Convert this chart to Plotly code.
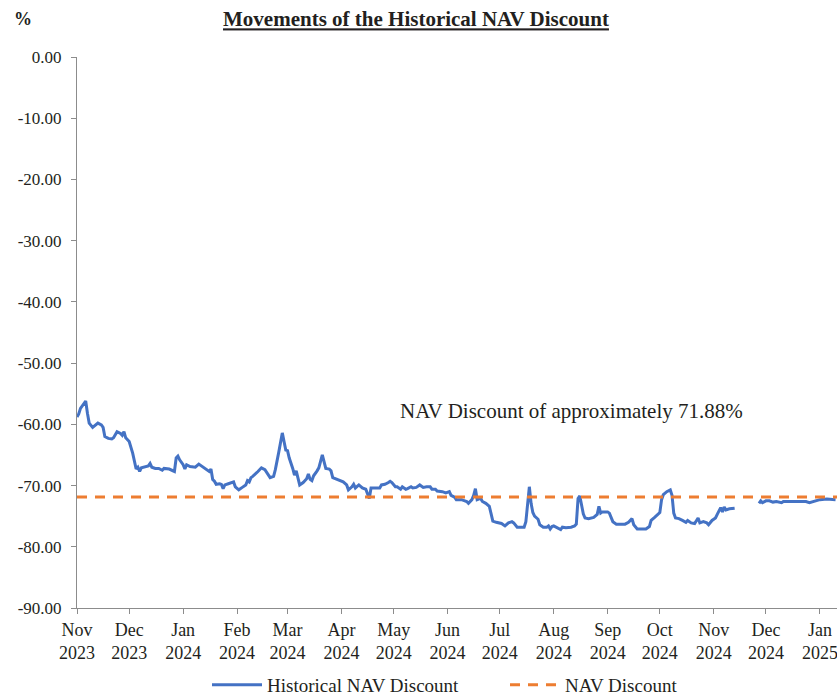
import plotly.graph_objects as go

# ---- data ----
dates = [
    "2023-11-01","2023-11-02","2023-11-03","2023-11-06","2023-11-07","2023-11-08","2023-11-10","2023-11-11",
    "2023-11-13","2023-11-15","2023-11-16","2023-11-17","2023-11-19","2023-11-21","2023-11-22","2023-11-24",
    "2023-11-26","2023-11-27","2023-11-28","2023-11-29","2023-12-01","2023-12-03","2023-12-04","2023-12-05",
    "2023-12-06","2023-12-07","2023-12-08","2023-12-10","2023-12-12","2023-12-13","2023-12-14","2023-12-16",
    "2023-12-18","2023-12-20","2023-12-21","2023-12-24","2023-12-27","2023-12-28","2023-12-29","2023-12-30",
    "2024-01-01","2024-01-02","2024-01-03","2024-01-05","2024-01-08","2024-01-10","2024-01-12","2024-01-14",
    "2024-01-16","2024-01-17","2024-01-18","2024-01-19","2024-01-20","2024-01-22","2024-01-23","2024-01-24",
    "2024-01-25","2024-01-27","2024-01-30","2024-01-31","2024-02-02","2024-02-04","2024-02-06","2024-02-07",
    "2024-02-08","2024-02-09","2024-02-10","2024-02-13","2024-02-15","2024-02-17","2024-02-19","2024-02-20",
    "2024-02-22","2024-02-23","2024-02-25","2024-02-27","2024-02-28","2024-02-29","2024-03-01","2024-03-02",
    "2024-03-04","2024-03-05","2024-03-06","2024-03-07","2024-03-08","2024-03-10","2024-03-11","2024-03-12",
    "2024-03-13","2024-03-14","2024-03-15","2024-03-16","2024-03-18","2024-03-19","2024-03-21","2024-03-22",
    "2024-03-23","2024-03-25","2024-03-26","2024-03-27","2024-03-30","2024-04-02","2024-04-04","2024-04-05",
    "2024-04-07","2024-04-08","2024-04-09","2024-04-11","2024-04-13","2024-04-15","2024-04-17","2024-04-18",
    "2024-04-20","2024-04-23","2024-04-24","2024-04-26","2024-04-28","2024-04-29","2024-04-30","2024-05-02",
    "2024-05-03","2024-05-05","2024-05-06","2024-05-08","2024-05-09","2024-05-11","2024-05-12","2024-05-14",
    "2024-05-16","2024-05-18","2024-05-20","2024-05-22","2024-05-23","2024-05-25","2024-05-26","2024-05-29",
    "2024-05-31","2024-06-02","2024-06-03","2024-06-05","2024-06-06","2024-06-09","2024-06-12","2024-06-13",
    "2024-06-15","2024-06-16","2024-06-17","2024-06-18","2024-06-20","2024-06-21","2024-06-23","2024-06-25",
    "2024-06-26","2024-06-27","2024-06-29","2024-07-01","2024-07-02","2024-07-04","2024-07-06","2024-07-08",
    "2024-07-09","2024-07-11","2024-07-13","2024-07-15","2024-07-16","2024-07-17","2024-07-18","2024-07-19",
    "2024-07-20","2024-07-21","2024-07-23","2024-07-24","2024-07-26","2024-07-28","2024-07-29","2024-07-30",
    "2024-07-31","2024-08-01","2024-08-03","2024-08-05","2024-08-06","2024-08-08","2024-08-11","2024-08-13",
    "2024-08-14","2024-08-15","2024-08-16","2024-08-17","2024-08-18","2024-08-19","2024-08-21","2024-08-24",
    "2024-08-26","2024-08-27","2024-08-28","2024-08-29","2024-09-01","2024-09-02","2024-09-04","2024-09-06",
    "2024-09-09","2024-09-11","2024-09-13","2024-09-15","2024-09-16","2024-09-18","2024-09-21","2024-09-23",
    "2024-09-25","2024-09-26","2024-09-28","2024-10-01","2024-10-02","2024-10-03","2024-10-05","2024-10-07",
    "2024-10-08","2024-10-09","2024-10-10","2024-10-12","2024-10-14","2024-10-16","2024-10-17","2024-10-19",
    "2024-10-21","2024-10-23","2024-10-24","2024-10-26","2024-10-28","2024-10-29","2024-10-31","2024-11-02",
    "2024-11-03","2024-11-04","2024-11-05","2024-11-06","2024-11-07","2024-11-08","2024-11-10","2024-11-13",
    "2024-11-20",
    "2024-11-27","2024-11-28","2024-11-29","2024-12-01","2024-12-03","2024-12-05","2024-12-07","2024-12-10",
    "2024-12-11","2024-12-16","2024-12-24","2024-12-26","2024-12-29","2025-01-01","2025-01-05","2025-01-08",
    "2025-01-10",
]
historical_discount = [
    -58.8,-58.3,-57.4,-56.2,-58.2,-59.8,-60.5,-60.3,
    -59.8,-60.1,-60.5,-62.0,-62.3,-62.4,-62.2,-61.2,
    -61.5,-61.8,-61.2,-62.2,-62.8,-64.7,-66.1,-67.3,
    -67.0,-67.7,-67.1,-67.0,-66.8,-66.4,-67.0,-67.2,
    -67.2,-67.5,-67.2,-67.3,-67.7,-65.5,-65.2,-65.8,
    -66.6,-67.3,-66.6,-66.9,-67.0,-66.5,-66.9,-67.3,
    -67.7,-67.3,-69.0,-69.3,-69.8,-69.7,-69.8,-70.5,
    -69.9,-69.7,-69.4,-70.2,-70.7,-70.3,-69.9,-69.2,
    -69.4,-68.7,-68.5,-67.7,-67.1,-67.4,-68.3,-68.7,
    -68.5,-67.4,-64.5,-61.4,-62.8,-64.2,-64.3,-65.5,
    -67.2,-68.3,-67.6,-68.7,-69.9,-69.5,-69.2,-68.9,
    -68.1,-69.0,-69.2,-68.4,-67.6,-67.1,-65.0,-66.4,
    -67.2,-67.3,-67.6,-68.7,-69.1,-69.4,-69.9,-70.7,
    -70.2,-69.8,-70.4,-69.9,-70.4,-70.6,-72.1,-70.4,
    -70.4,-70.4,-69.9,-69.8,-69.5,-69.3,-69.5,-70.2,
    -70.2,-70.6,-70.2,-70.6,-70.5,-70.2,-70.4,-70.3,
    -69.9,-70.3,-70.2,-70.2,-70.6,-70.6,-70.9,-71.0,
    -71.2,-71.0,-71.6,-71.9,-72.3,-72.3,-72.6,-72.9,
    -72.3,-71.6,-70.5,-72.3,-72.1,-72.6,-72.9,-73.4,
    -74.6,-75.8,-76.0,-76.1,-76.2,-76.6,-76.1,-75.9,
    -76.1,-76.8,-76.8,-76.8,-75.9,-73.1,-70.2,-72.9,
    -74.4,-75.0,-75.5,-76.4,-76.8,-76.8,-76.6,-77.1,
    -76.7,-76.6,-76.9,-77.2,-76.8,-76.9,-76.8,-76.6,
    -76.3,-72.1,-71.7,-73.4,-74.6,-75.3,-75.4,-75.2,
    -74.7,-73.4,-74.5,-74.3,-74.3,-74.5,-75.9,-76.3,
    -76.3,-76.3,-76.0,-75.4,-76.4,-77.1,-77.1,-77.1,
    -76.7,-75.7,-75.2,-74.4,-72.3,-71.5,-71.0,-70.7,
    -71.6,-74.5,-75.3,-75.4,-75.7,-76.0,-75.7,-76.1,
    -76.2,-75.3,-76.1,-75.9,-76.1,-76.4,-75.7,-75.3,
    -74.7,-74.2,-73.6,-74.3,-73.5,-74.0,-73.8,-73.7,
    None,
    -72.9,-72.5,-72.8,-72.5,-72.5,-72.7,-72.6,-72.8,
    -72.6,-72.6,-72.6,-72.8,-72.5,-72.3,-72.2,-72.2,
    -72.3,
]
nav_discount_level = -71.88
axis_start = "2023-11-01"
axis_end = "2025-01-10T20:00"
y_tick_values = [0, -10, -20, -30, -40, -50, -60, -70, -80, -90]
y_tick_labels = ["0.00", "-10.00", "-20.00", "-30.00", "-40.00", "-50.00",
                 "-60.00", "-70.00", "-80.00", "-90.00"]

FONT = "Liberation Serif, Times New Roman, serif"
TXT = "#231f20"
AX = "#8c8c8c"

fig = go.Figure()
fig.add_trace(go.Scatter(
    x=dates, y=historical_discount, mode="lines", name="Historical NAV Discount",
    line=dict(color="#4472C4", width=3), connectgaps=False,
))
fig.add_trace(go.Scatter(
    x=[axis_start, axis_end], y=[nav_discount_level, nav_discount_level],
    mode="lines", name="NAV Discount",
    line=dict(color="#ED7D31", width=3, dash="10px,8px"),
))

fig.update_layout(
    width=837, height=695,
    margin=dict(l=77, r=0, t=57, b=87),
    paper_bgcolor="white", plot_bgcolor="white",
    font=dict(family=FONT, size=17, color=TXT),
    title=dict(text="<b><u>Movements of the Historical NAV Discount</u></b>",
               x=0.497, xref="container", xanchor="center",
               y=1 - 19 / 695, yref="container", yanchor="middle",
               font=dict(family=FONT, size=21, color=TXT)),
    showlegend=True,
    legend=dict(orientation="h", xref="container", x=207 / 837, xanchor="left",
                yref="container", y=10 / 695, yanchor="middle",
                font=dict(family=FONT, size=19, color=TXT),
                itemwidth=50, entrywidth=233, bgcolor="rgba(0,0,0,0)"),
    xaxis=dict(
        type="date", range=[axis_start, axis_end],
        tick0=axis_start, dtick="M1", tickformat="%b<br>%Y",
        showline=True, linecolor=AX, linewidth=1,
        ticks="outside", ticklen=5, tickcolor=AX,
        showgrid=False, zeroline=False,
        tickfont=dict(family=FONT, size=18, color=TXT),
        automargin=False, ticklabeloverflow="allow",
    ),
    yaxis=dict(
        range=[-90, 0], tickvals=y_tick_values, ticktext=y_tick_labels,
        showline=True, linecolor=AX, linewidth=1,
        ticks="outside", ticklen=5, tickcolor=AX,
        showgrid=False, zeroline=False,
        tickfont=dict(family=FONT, size=17, color=TXT),
        ticklabelstandoff=6, automargin=False,
    ),
    annotations=[
        dict(text="NAV Discount of approximately 71.88%", xref="paper", yref="y",
             x=(398 - 77) / 760, y=-57.8, xanchor="left", yanchor="middle",
             showarrow=False, font=dict(family=FONT, size=21, color=TXT)),
        dict(text="<b>%</b>", xref="paper", yref="paper",
             x=(12 - 77) / 760, y=1 + (57 - 19) / 551, xanchor="left", yanchor="middle",
             showarrow=False, font=dict(family=FONT, size=18, color=TXT)),
    ],
)

fig.write_html("out.html", config={"displayModeBar": False},
               post_script="document.body.style.margin='0';")
